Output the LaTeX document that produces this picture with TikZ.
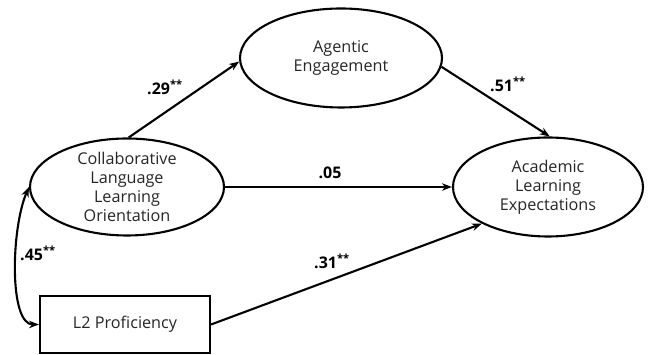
\documentclass[tikz,border=0pt]{standalone}
\usepackage{fontspec}
\setmainfont{Open Sans}
\usetikzlibrary{arrows.meta,shapes.geometric}
\tikzset{
  ell/.style={draw, line width=2.1pt, ellipse, inner sep=0pt},
  box/.style={draw, line width=2.1pt, rectangle, inner sep=0pt},
  txt/.style={align=center, font=\fontsize{16.2}{19}\selectfont, text=black!85},
  tip/.tip={Stealth[length=10pt,width=7.5pt]},
  path/.style={line width=2.1pt, -tip},
  coef/.style={font=\fontsize{16}{18}\selectfont\bfseries, inner sep=0pt}
}
\newcommand{\sig}{\textsuperscript{**}}
\begin{document}
\begin{tikzpicture}[x=1pt,y=1pt]
\useasboundingbox (0,0) rectangle (648,355);
\node[ell, minimum width=194pt, minimum height=97pt] (cllo) at (127,168) {};
\node[txt] (cllot) at (cllo) {Collaborative\\Language\\Learning\\Orientation};
\node[ell, minimum width=202pt, minimum height=99pt] (ae) at (341,297) {};
\node[txt] (aet) at (ae) {Agentic\\Engagement};
\node[ell, minimum width=190pt, minimum height=99pt] (ale) at (548,168) {};
\node[txt] (alet) at (ale) {Academic\\Learning\\Expectations};
\node[box, minimum width=170pt, minimum height=57pt] (l2) at (125,30.5) {};
\node[txt] (l2t) at (l2) {L2 Proficiency};

\draw[path] (cllo.88) -- (ae.182);
\draw[path] (ae.-5) -- (ale.88);
\draw[path] (cllo.east) -- (ale.west);
\draw[path] (l2.east) -- (ale.209);
\draw[line width=2.1pt, tip-tip]
  (cllo.west) .. controls +(-18,-42) and +(-30,0) .. (l2.west);

\node[coef] (c29) at (165,268) {.29\sig};
\node[coef] (c51) at (508,271) {.51\sig};
\node[coef] (c05) at (330,182) {.05};
\node[coef] (c31) at (332,94) {.31\sig};
\node[coef] (c45) at (38,102) {.45\sig};
\end{tikzpicture}
\end{document}
